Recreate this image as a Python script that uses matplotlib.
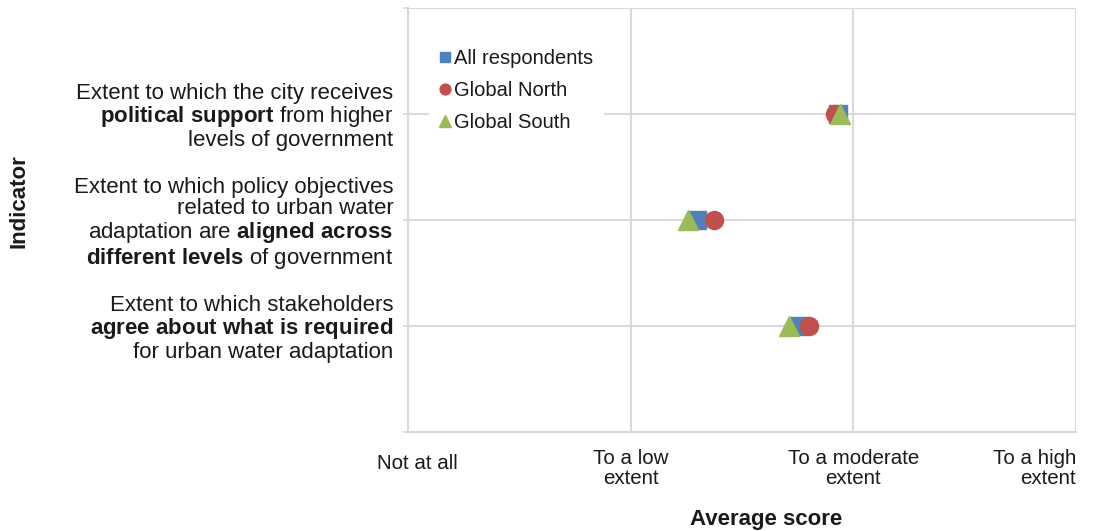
import matplotlib
matplotlib.use("Agg")
import matplotlib.pyplot as plt
import matplotlib.transforms as mtransforms

plt.rcParams["font.family"] = ["Liberation Sans", "DejaVu Sans"]
plt.rcParams["mathtext.fontset"] = "custom"
plt.rcParams["mathtext.rm"] = "Liberation Sans"
plt.rcParams["mathtext.bf"] = "Liberation Sans:bold"
plt.rcParams["mathtext.it"] = "Liberation Sans:italic"

# data
indicators = [
    "Extent to which stakeholders\n"
    r"$\bf{agree\ about\ what\ is\ required}$" "\n"
    "for urban water adaptation",
    "Extent to which policy objectives\n"
    "related to urban water\n"
    r"adaptation are $\bf{aligned\ across}$" "\n"
    r"$\bf{different\ levels}$ of government",
    "Extent to which the city receives\n"
    r"$\bf{political\ support}$ from higher" "\n"
    "levels of government",
]
row_pos = [1, 2, 3]
all_resp = [1.757, 1.300, 1.929]
north = [1.801, 1.375, 1.916]
south = [1.713, 1.256, 1.939]
x_labels = ["Not at all", "To a low\nextent", "To a moderate\nextent", "To a high\nextent"]

grid_c = "#d9d9d9"
txt_c = "#1a1a1a"

fig = plt.figure(figsize=(10.96, 5.31), dpi=100)
ax = fig.add_axes([408 / 1096, 99 / 531, 668 / 1096, 424 / 531])

ax.plot(all_resp, row_pos, "s", color="#4f81bd", markersize=13, label="All respondents", zorder=3)
ax.plot(north, row_pos, "o", color="#c0504d", markersize=13, label="Global North", zorder=4)
ax.plot(south, row_pos, "^", color="#9bbb59", markersize=15, label="Global South", zorder=5)

ax.set_xlim(0, 3)
ax.set_ylim(0, 4)
ax.set_xticks([0, 1, 2, 3])
ax.set_xticklabels(x_labels, fontsize=14.8, color=txt_c, linespacing=1.1)
ax.set_yticks([0, 1, 2, 3, 4])
ax.set_yticklabels([""] + indicators + [""], fontsize=16, color=txt_c, linespacing=1.05)
ax.tick_params(axis="x", length=0, pad=12)
ax.tick_params(axis="y", length=3.6, width=1.2, color=grid_c, pad=7)
xt = ax.get_xticklabels()
xt[-1].set_horizontalalignment("right")
# single-line label sits a bit lower and to the right, as in the original
xt[0].set_transform(xt[0].get_transform() +
                    mtransforms.ScaledTranslation(9 / 100, -5 / 100, fig.dpi_scale_trans))

ax.grid(True, color=grid_c, linewidth=1.5)
ax.set_axisbelow(True)
for s in ["top", "right"]:
    ax.spines[s].set_visible(False)
ax.spines["left"].set_color(grid_c)
ax.spines["bottom"].set_color(grid_c)
ax.spines["left"].set_linewidth(1.5)
ax.spines["bottom"].set_linewidth(1.5)

leg = ax.legend(loc="upper left", bbox_to_anchor=(0.017, 0.95), fontsize=14.5,
                frameon=True, framealpha=1, edgecolor="white", facecolor="white",
                handlelength=0.5, handletextpad=0.2, labelspacing=0.64,
                borderpad=0.5, markerscale=0.6)
for t in leg.get_texts():
    t.set_color(txt_c)

fig.text(19 / 1096, 1 - 201 / 531, "Indicator", rotation=90, fontsize=16,
         fontweight="bold", color=txt_c, ha="center", va="center")
fig.text(766 / 1096, 1 - 520 / 531, "Average score", fontsize=16,
         fontweight="bold", color=txt_c, ha="center", va="center")

plt.savefig("out.png", dpi=100)
